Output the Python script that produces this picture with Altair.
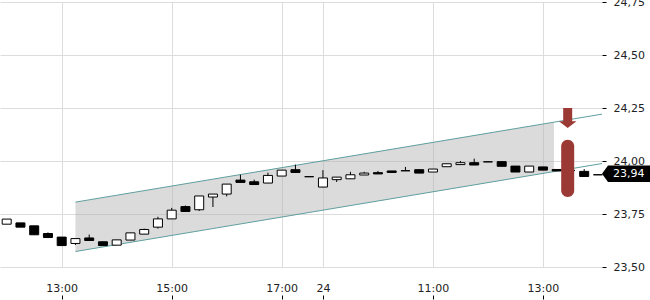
import altair as alt
import pandas as pd

# ---- data (15-min candles, index 0 = 12:00) ----
idx = list(range(44))
opens = [23.702, 23.708, 23.694, 23.658, 23.641, 23.611, 23.637, 23.619, 23.603, 23.627,
         23.655, 23.688, 23.727, 23.785, 23.770, 23.830, 23.844, 23.910, 23.902, 23.896,
         23.929, 23.959, 23.926, 23.877, 23.912, 23.916, 23.934, 23.945, 23.953, 23.954,
         23.959, 23.948, 23.973, 23.983, 23.992, 23.996, 23.997, 23.976, 23.948, 23.972,
         23.960, 23.955, 23.951, 23.935]
closes = [23.726, 23.688, 23.652, 23.639, 23.601, 23.634, 23.625, 23.601, 23.628, 23.661,
          23.677, 23.727, 23.768, 23.762, 23.835, 23.844, 23.891, 23.899, 23.889, 23.932,
          23.957, 23.946, 23.926, 23.920, 23.924, 23.935, 23.943, 23.939, 23.946, 23.954,
          23.943, 23.962, 23.987, 23.992, 23.981, 23.996, 23.975, 23.948, 23.976, 23.957,
          23.953, 23.955, 23.927, 23.935]
highs = [23.726, 23.708, 23.694, 23.663, 23.641, 23.634, 23.653, 23.619, 23.628, 23.661,
         23.681, 23.737, 23.779, 23.790, 23.835, 23.844, 23.891, 23.935, 23.912, 23.945,
         23.957, 23.983, 23.926, 23.957, 23.924, 23.949, 23.949, 23.953, 23.953, 23.972,
         23.959, 23.962, 23.987, 24.000, 24.011, 24.000, 23.997, 23.976, 23.976, 23.972,
         23.960, 23.969, 23.962, 23.935]
lows = [23.702, 23.688, 23.652, 23.639, 23.601, 23.604, 23.625, 23.601, 23.603, 23.627,
        23.655, 23.681, 23.727, 23.762, 23.764, 23.783, 23.833, 23.899, 23.889, 23.896,
        23.929, 23.946, 23.926, 23.877, 23.901, 23.916, 23.934, 23.939, 23.946, 23.954,
        23.943, 23.948, 23.973, 23.983, 23.981, 23.996, 23.975, 23.948, 23.948, 23.957,
        23.953, 23.955, 23.927, 23.935]

# trend channel
chan_x = [5, 43.295]
chan_upper = [23.806, 24.221]
chan_lower = [23.573, 23.988]
shade_x = [5, 39.8]
shade_upper = [23.806, 24.183]
shade_lower = [23.573, 23.950]

# signal markers
sig_x = [40.8]
arrow_y = [24.203]
bar_top = [24.10]
bar_bottom = [23.83]

# last price
last_price = [23.94]
last_label = ["23,94"]

# axes
tick_idx = [4, 12, 20, 23, 31, 39]
tick_labels = ["13:00", "15:00", "17:00", "24", "11:00", "13:00"]
y_ticks = [23.5, 23.75, 24.0, 24.25, 24.5, 24.75]

# ---- tables ----
candles = pd.DataFrame({"i": idx, "open": opens, "close": closes, "high": highs, "low": lows})
candles["up"] = candles["close"] >= candles["open"]
channel = pd.DataFrame({"i": chan_x, "upper": chan_upper, "lower": chan_lower})
shade = pd.DataFrame({"i": shade_x, "upper": shade_upper, "lower": shade_lower})
signal = pd.DataFrame({"i": sig_x, "arrow": arrow_y, "top": bar_top, "bottom": bar_bottom})
price = pd.DataFrame({"p": last_price, "label": last_label})

FONT = "DejaVu Sans"
label_expr = " : ".join(
    f"datum.value == {v} ? '{t}'" for v, t in zip(tick_idx, tick_labels)
) + " : ''"

x_scale = alt.Scale(domain=[-0.487, 43.295], nice=False, zero=False, padding=0)
y_scale = alt.Scale(domain=[23.5, 24.75], nice=False, zero=False, padding=0)

x_axis = alt.Axis(orient="top", offset=-297, values=tick_idx, labelExpr=label_expr,
                  grid=True, gridColor="#dcdcdc", domain=False, ticks=True,
                  tickColor="#000000", tickSize=4, labelFont=FONT, labelFontSize=11,
                  labelColor="#222222", labelPadding=2, title=None, labelFlush=False)
y_axis = alt.Axis(orient="right", values=y_ticks,
                  labelExpr="replace(format(datum.value, '.2f'), '.', ',')",
                  grid=True, gridColor="#dcdcdc", domain=False, ticks=True,
                  tickColor="#000000", tickSize=4, labelFont=FONT, labelFontSize=11,
                  labelColor="#222222", labelPadding=7, title=None, labelFlush=False)

X = lambda f: alt.X(f"{f}:Q", scale=x_scale, axis=x_axis)
Y = lambda f: alt.Y(f"{f}:Q", scale=y_scale, axis=y_axis)

shade_layer = alt.Chart(shade).mark_area(color="#b0b0b0", opacity=0.45).encode(
    x=X("i"), y=Y("upper"), y2="lower:Q")
upper_line = alt.Chart(channel).mark_line(color="#5f9ea0", strokeWidth=1).encode(
    x=X("i"), y=Y("upper"))
lower_line = alt.Chart(channel).mark_line(color="#5f9ea0", strokeWidth=1).encode(
    x=X("i"), y=Y("lower"))

wicks = alt.Chart(candles).mark_rule(color="#000000", strokeWidth=1).encode(
    x=X("i"), y=Y("low"), y2="high:Q")
bodies = alt.Chart(candles).mark_bar(size=9, stroke="#000000", strokeWidth=1).encode(
    x=X("i"), y=Y("open"), y2="close:Q",
    fill=alt.condition("datum.up", alt.value("#ffffff"), alt.value("#000000")))

red = "#9b3934"
sig_bar = alt.Chart(signal).mark_bar(size=13, cornerRadius=6.5, color=red).encode(
    x=X("i"), y=Y("top"), y2="bottom:Q")
arrow_path = "M-0.45,-1 L0.45,-1 L0.45,0.34 L0.88,0.34 L0,1 L-0.88,0.34 L-0.45,0.34 Z"
sig_arrow = alt.Chart(signal).mark_point(shape=arrow_path, size=400, filled=True,
                                          color=red, opacity=1).encode(
    x=X("i"), y=Y("arrow"))

label_path = "M-1,0 L-0.75,-0.34 L1,-0.34 L1,0.34 L-0.75,0.34 Z"
price_box = alt.Chart(price).mark_point(shape=label_path, size=2304, filled=True,
                                         color="#000000", opacity=1).encode(
    x=alt.value(626), y=Y("p"))
price_text = alt.Chart(price).mark_text(align="left", baseline="middle", color="#ffffff",
                                         font=FONT, fontSize=11).encode(
    x=alt.value(613), y=Y("p"), text="label:N")

chart = alt.layer(
    shade_layer, upper_line, lower_line, wicks, bodies, sig_bar, sig_arrow,
    price_box, price_text
).properties(
    width=602, height=265,
    autosize=alt.AutoSizeParams(type="none"),
    padding={"left": 0, "top": 2, "right": 48, "bottom": 33},
    background="#ffffff",
).configure_view(stroke=None)

chart.save("out.html", embed_options={"renderer": "svg", "actions": False})
